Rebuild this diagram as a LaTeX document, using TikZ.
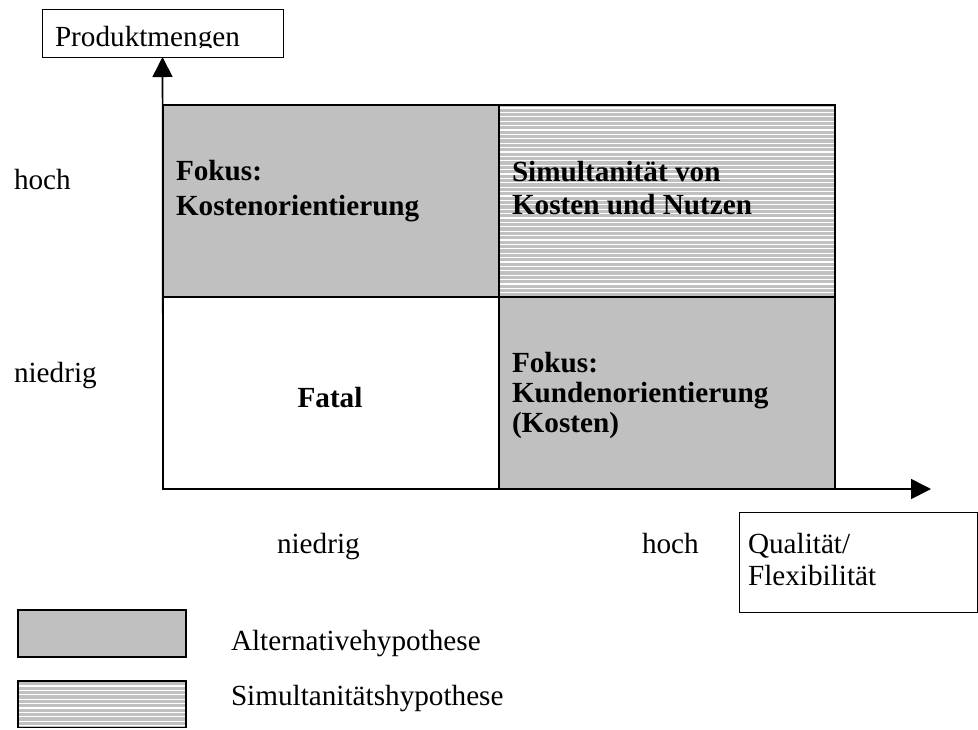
\documentclass[tikz,border=0pt]{standalone}
\usepackage{fontspec}
\setmainfont{Liberation Serif}
\usetikzlibrary{arrows.meta}
\definecolor{quadgrey}{HTML}{C0C0C0}
\begin{document}
\begin{tikzpicture}[x=0.5pt,y=-0.5pt,
  every node/.style={inner sep=0pt, outer sep=0pt},
  lbl/.style={anchor=base west, font=\fontsize{14.6}{17}\selectfont},
  blbl/.style={anchor=base west, font=\fontsize{14.6}{17}\selectfont\bfseries},
  gridline/.style={line width=1pt},
  axisline/.style={line width=0.8pt, -{Triangle[length=10pt,width=10pt]}},
  hatchline/.style={white, line width=0.65pt},
  frame/.style={draw, line width=0.5pt}]
\useasboundingbox (0,0) rectangle (978,729);

% quadrant fills
\fill[quadgrey] (163,105) rectangle (499,297);
\fill[quadgrey] (499,105) rectangle (835,297);
\foreach \y in {108,112.4,...,296} \draw[hatchline] (499,\y) -- (835,\y);
\fill[quadgrey] (499,297) rectangle (835,489);

% quadrant frame
\draw[gridline] (163,105) rectangle (835,489);
\draw[gridline] (163,297) -- (835,297);
\draw[gridline] (499,105) -- (499,489);

% axes
\coordinate (o) at (163,489);
\coordinate (xend) at (931,489);
\node[frame, minimum width=120.5pt, minimum height=24pt] (ybox) at (162.5,33) {};
\begin{scope}
  \clip (42,9) rectangle (283,47.5);
  \node[lbl] (ytitle) at (55,46) {Produktmengen};
\end{scope}
\draw[axisline] (o) -- (ybox.south);
\draw[axisline] (o) -- (xend);

% axis box for the horizontal axis
\draw[line width=0.5pt] (739,512) rectangle (977,612);
\node[lbl] (xtitle1) at (748,553) {Qualität/};
\node[lbl] (xtitle2) at (748,585) {Flexibilität};

% scale labels
\node[lbl] (yhigh) at (14,189) {hoch};
\node[lbl] (ylow) at (14,382) {niedrig};
\node[lbl] (xlow) at (277,553) {niedrig};
\node[lbl] (xhigh) at (642,553) {hoch};

% quadrant texts
\node[blbl] (q1a) at (176,180) {Fokus:};
\node[blbl] (q1b) at (176,215) {Kostenorientierung};
\node[blbl] (q2a) at (512,181) {Simultanität von};
\node[blbl] (q2b) at (512,214) {Kosten und Nutzen};
\node[blbl, anchor=base] (q3) at (330,407) {Fatal};
\node[blbl] (q4a) at (512,372) {Fokus:};
\node[blbl] (q4b) at (512,402) {Kundenorientierung};
\node[blbl] (q4c) at (512,432) {(Kosten)};

% legend
\filldraw[fill=quadgrey, line width=0.7pt] (18,610) rectangle (186,657);
\fill[quadgrey] (18,681) rectangle (186,727.5);
\foreach \y in {686,690.4,...,726} \draw[hatchline] (18,\y) -- (186,\y);
\draw[line width=0.7pt] (18,681) rectangle (186,727.5);
\node[lbl] (leg1) at (231,650) {Alternativehypothese};
\node[lbl] (leg2) at (231,705) {Simultanitätshypothese};
\end{tikzpicture}
\end{document}
